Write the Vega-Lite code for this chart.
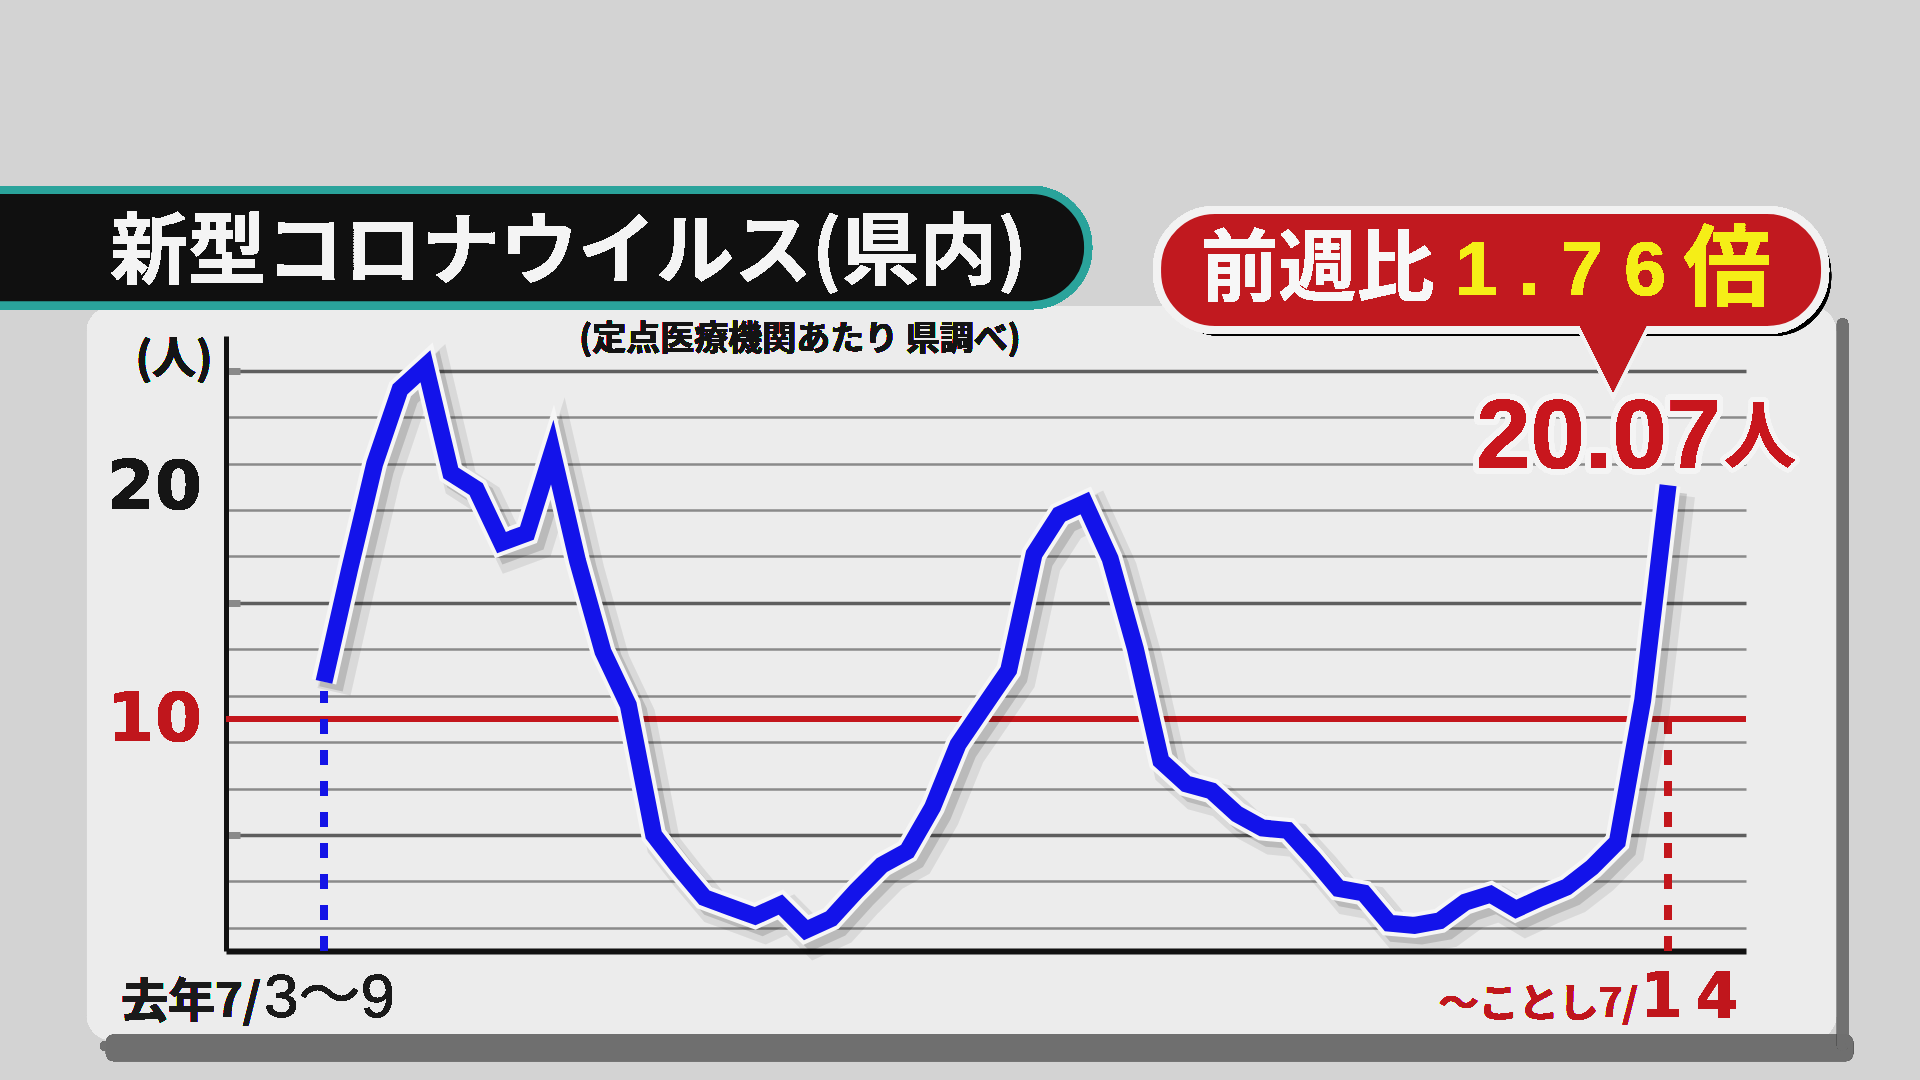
{
  "$schema": "https://vega.github.io/schema/vega-lite/v6.json",
  "width": 1520,
  "height": 615,
  "autosize": {"type": "none"},
  "padding": {"left": 226, "top": 336, "right": 174, "bottom": 129},
  "background": "#ececec",
  "config": {"view": {"stroke": null}, "font": "Noto Sans CJK JP"},
  "datasets": {
    "cases": [
      {"week": 0, "value": 11.6}, {"week": 1, "value": 16.4}, {"week": 2, "value": 21.0}, {"week": 3, "value": 24.2},
      {"week": 4, "value": 25.2}, {"week": 5, "value": 20.6}, {"week": 6, "value": 19.9}, {"week": 7, "value": 17.6},
      {"week": 8, "value": 18.0}, {"week": 9, "value": 21.5}, {"week": 10, "value": 16.8}, {"week": 11, "value": 12.9},
      {"week": 12, "value": 10.6}, {"week": 13, "value": 5.0}, {"week": 14, "value": 3.6}, {"week": 15, "value": 2.3},
      {"week": 16, "value": 1.9}, {"week": 17, "value": 1.5}, {"week": 18, "value": 2.0}, {"week": 19, "value": 0.9},
      {"week": 20, "value": 1.4}, {"week": 21, "value": 2.6}, {"week": 22, "value": 3.7}, {"week": 23, "value": 4.3},
      {"week": 24, "value": 6.2}, {"week": 25, "value": 8.9}, {"week": 26, "value": 10.5}, {"week": 27, "value": 12.1},
      {"week": 28, "value": 17.1}, {"week": 29, "value": 18.8}, {"week": 30, "value": 19.3}, {"week": 31, "value": 16.9},
      {"week": 32, "value": 13.0}, {"week": 33, "value": 8.2}, {"week": 34, "value": 7.2}, {"week": 35, "value": 6.9},
      {"week": 36, "value": 5.9}, {"week": 37, "value": 5.3}, {"week": 38, "value": 5.2}, {"week": 39, "value": 4.0},
      {"week": 40, "value": 2.7}, {"week": 41, "value": 2.5}, {"week": 42, "value": 1.2}, {"week": 43, "value": 1.1},
      {"week": 44, "value": 1.3}, {"week": 45, "value": 2.1}, {"week": 46, "value": 2.45}, {"week": 47, "value": 1.8},
      {"week": 48, "value": 2.3}, {"week": 49, "value": 2.75}, {"week": 50, "value": 3.6}, {"week": 51, "value": 4.7},
      {"week": 52, "value": 10.8}, {"week": 53, "value": 20.07}
    ]
  },
  "data": {"name": "cases"},
  "layer": [
    {
      "mark": {"type": "rect", "filled": false, "stroke": "#d3d3d3", "strokeWidth": 640, "cornerRadius": 345},
      "encoding": {
        "x": {"datum": -22.0, "type": "quantitative", "scale": {"domain": [-3.864, 56.073], "nice": false, "zero": false}},
        "x2": {"datum": 72.28},
        "y": {"datum": 41.58, "type": "quantitative", "scale": {"domain": [0, 26.5], "nice": false, "zero": false}},
        "y2": {"datum": -17.66}
      }
    },
    {
      "mark": {"type": "rect", "fill": "#6f6f6f", "opacity": 0.18, "cornerRadius": 8},
      "encoding": {
        "x": {"datum": -8.6, "type": "quantitative"},
        "x2": {"datum": 60.3},
        "y": {"datum": -3.6, "type": "quantitative"},
        "y2": {"datum": -4.75}
      }
    },
    {
      "mark": {"type": "rect", "fill": "#6f6f6f", "opacity": 0.3, "cornerRadius": 6},
      "encoding": {
        "x": {"datum": -8.83, "type": "quantitative"},
        "x2": {"datum": 60.02},
        "y": {"datum": -3.878, "type": "quantitative"},
        "y2": {"datum": -4.309}
      }
    },
    {
      "mark": {"type": "rect", "fill": "#6f6f6f", "opacity": 0.3, "cornerRadius": 6},
      "encoding": {
        "x": {"datum": 59.66, "type": "quantitative"},
        "x2": {"datum": 60.1},
        "y": {"datum": 27.27, "type": "quantitative"},
        "y2": {"datum": -4.309}
      }
    },
    {
      "mark": {"type": "rect", "fill": "#101010", "stroke": "#2aa39b", "strokeWidth": 8, "cornerRadius": 57},
      "encoding": {
        "x": {"datum": -15.14, "type": "quantitative"},
        "x2": {"datum": 30.13},
        "y": {"datum": 32.79, "type": "quantitative"},
        "y2": {"datum": 27.83}
      }
    },
    {
      "mark": {"type": "text", "text": "新型コロナウイルス(県内)", "align": "left", "baseline": "middle", "font": "Noto Sans CJK JP", "fontWeight": "bold", "fontSize": 78, "color": "#f4f4f4"},
      "encoding": {
        "x": {"datum": -8.44, "type": "quantitative"},
        "y": {"datum": 30.0, "type": "quantitative"}
      }
    },
    {
      "mark": {"type": "rect", "fill": "#ececec"},
      "encoding": {
        "x": {"datum": 9.15, "type": "quantitative"},
        "x2": {"datum": 28.43},
        "y": {"datum": 26.93, "type": "quantitative"},
        "y2": {"datum": 25.64}
      }
    },
    {
      "mark": {"type": "text", "text": "(定点医療機関あたり 県調べ)", "align": "center", "baseline": "middle", "font": "Noto Sans CJK JP", "fontWeight": "bold", "fontSize": 34, "color": "#141414"},
      "encoding": {
        "x": {"datum": 18.77, "type": "quantitative"},
        "y": {"datum": 26.33, "type": "quantitative"}
      }
    },
    {
      "mark": {"type": "text", "text": "(人)", "align": "center", "baseline": "middle", "font": "Noto Sans CJK JP", "fontWeight": "bold", "fontSize": 44, "color": "#141414"},
      "encoding": {
        "x": {"datum": -5.914, "type": "quantitative"},
        "y": {"datum": 25.42, "type": "quantitative"}
      }
    },
    {
      "mark": {"type": "text", "text": "20", "align": "right", "baseline": "middle", "font": "DejaVu Sans", "fontWeight": "bold", "fontSize": 68, "color": "#151515", "dx": -24, "dy": 2},
      "encoding": {
        "x": {"datum": -3.864, "type": "quantitative"},
        "y": {"datum": 20, "type": "quantitative"}
      }
    },
    {
      "mark": {"type": "text", "text": "10", "align": "right", "baseline": "middle", "font": "DejaVu Sans", "fontWeight": "bold", "fontSize": 68, "color": "#c0161c", "dx": -24, "dy": 2},
      "encoding": {
        "x": {"datum": -3.864, "type": "quantitative"},
        "y": {"datum": 10, "type": "quantitative"}
      }
    },
    {
      "mark": {"type": "rule", "color": "#c3161c", "strokeWidth": 5},
      "encoding": {"y": {"datum": 10, "type": "quantitative"}}
    },
    {
      "mark": {"type": "rule", "color": "#1414e6", "strokeWidth": 7, "strokeDash": [15, 16]},
      "encoding": {
        "x": {"datum": 0, "type": "quantitative"},
        "y": {"datum": 0, "type": "quantitative"},
        "y2": {"datum": 11.2}
      }
    },
    {
      "mark": {"type": "rule", "color": "#c3161c", "strokeWidth": 7, "strokeDash": [15, 16]},
      "encoding": {
        "x": {"datum": 53, "type": "quantitative"},
        "y": {"datum": 0, "type": "quantitative"},
        "y2": {"datum": 10}
      }
    },
    {
      "mark": {"type": "line", "color": "#000000", "opacity": 0.08, "strokeWidth": 34, "strokeJoin": "miter", "strokeCap": "butt", "xOffset": 10, "yOffset": 10},
      "encoding": {
        "x": {"field": "week", "type": "quantitative"},
        "y": {"field": "value", "type": "quantitative"}
      }
    },
    {
      "mark": {"type": "line", "color": "#000000", "opacity": 0.14, "strokeWidth": 24, "strokeJoin": "miter", "strokeCap": "butt", "xOffset": 7, "yOffset": 7},
      "encoding": {
        "x": {"field": "week", "type": "quantitative"},
        "y": {"field": "value", "type": "quantitative"}
      }
    },
    {
      "mark": {"type": "line", "color": "#f6f6f6", "strokeWidth": 25, "strokeJoin": "miter", "strokeCap": "butt"},
      "encoding": {
        "x": {"field": "week", "type": "quantitative"},
        "y": {"field": "value", "type": "quantitative"}
      }
    },
    {
      "mark": {"type": "line", "color": "#1313ea", "strokeWidth": 17, "strokeJoin": "miter", "strokeCap": "butt"},
      "encoding": {
        "x": {
          "field": "week", "type": "quantitative",
          "scale": {"domain": [-3.864, 56.073], "nice": false, "zero": false},
          "axis": {"title": null, "labels": false, "ticks": false, "grid": false, "domain": true, "domainColor": "#111111", "domainWidth": 6}
        },
        "y": {
          "field": "value", "type": "quantitative",
          "scale": {"domain": [0, 26.5], "nice": false, "zero": false},
          "axis": {
            "title": null,
            "values": [1, 2, 3, 4, 5, 6, 7, 8, 9, 10, 11, 12, 13, 14, 15, 16, 17, 18, 19, 20, 21, 22, 23, 24, 25, 26],
            "grid": true,
            "gridColor": {"condition": {"test": "datum.value % 5 === 0", "value": "#5e5e5e"}, "value": "#8a8a8a"},
            "gridWidth": {"condition": {"test": "datum.value % 5 === 0", "value": 3.5}, "value": 2.5},
            "domain": true, "domainColor": "#111111", "domainWidth": 5,
            "ticks": true, "tickSize": -14, "tickWidth": 7, "tickColor": "#8a8a8a",
            "tickOpacity": {"condition": {"test": "datum.value % 5 === 0", "value": 1}, "value": 0},
            "labels": false
          }
        }
      }
    },
    {
      "mark": {"type": "rect", "fill": "#000000", "opacity": 0.18, "cornerRadius": 58},
      "encoding": {
        "x": {"datum": 33.09, "type": "quantitative"},
        "x2": {"datum": 59.43},
        "y": {"datum": 31.67, "type": "quantitative"},
        "y2": {"datum": 26.5}
      }
    },
    {
      "mark": {"type": "point", "shape": "M -1 -1 L 1 -1 L 0 1 Z", "size": 4900, "filled": true, "fill": "#c1191f", "stroke": "#f2f2f2", "strokeWidth": 8, "opacity": 1},
      "encoding": {
        "x": {"datum": 50.83, "type": "quantitative"},
        "y": {"datum": 25.59, "type": "quantitative"}
      }
    },
    {
      "mark": {"type": "rect", "fill": "#c1191f", "stroke": "#f2f2f2", "strokeWidth": 8, "cornerRadius": 58},
      "encoding": {
        "x": {"datum": 32.85, "type": "quantitative"},
        "x2": {"datum": 59.19},
        "y": {"datum": 31.93, "type": "quantitative"},
        "y2": {"datum": 26.76}
      }
    },
    {
      "mark": {"type": "point", "shape": "M -1 -1 L 1 -1 L 0 1 Z", "size": 4900, "filled": true, "fill": "#c1191f", "strokeWidth": 0, "opacity": 1},
      "encoding": {
        "x": {"datum": 50.83, "type": "quantitative"},
        "y": {"datum": 25.59, "type": "quantitative"}
      }
    },
    {
      "mark": {"type": "text", "text": "前週比", "align": "left", "baseline": "middle", "font": "Noto Sans CJK JP", "fontWeight": "bold", "fontSize": 78, "color": "#f7f7f7"},
      "encoding": {
        "x": {"datum": 34.56, "type": "quantitative"},
        "y": {"datum": 29.25, "type": "quantitative"}
      }
    },
    {
      "mark": {"type": "text", "text": "1 . 7 6", "align": "left", "baseline": "middle", "font": "Liberation Sans", "fontWeight": "bold", "fontSize": 76, "color": "#f5ee17"},
      "encoding": {
        "x": {"datum": 44.6, "type": "quantitative"},
        "y": {"datum": 29.25, "type": "quantitative"}
      }
    },
    {
      "mark": {"type": "text", "text": "倍", "align": "left", "baseline": "middle", "font": "Noto Sans CJK JP", "fontWeight": "bold", "fontSize": 88, "color": "#f5ee17"},
      "encoding": {
        "x": {"datum": 53.6, "type": "quantitative"},
        "y": {"datum": 29.25, "type": "quantitative"}
      }
    },
    {
      "mark": {"type": "text", "text": "20.07", "align": "left", "baseline": "alphabetic", "font": "Liberation Sans", "fontWeight": "bold", "fontSize": 98, "color": "#f4f4f4", "stroke": "#f4f4f4", "strokeWidth": 12, "strokeJoin": "round"},
      "encoding": {
        "x": {"datum": 45.43, "type": "quantitative"},
        "y": {"datum": 20.81, "type": "quantitative"}
      }
    },
    {
      "mark": {"type": "text", "text": "20.07", "align": "left", "baseline": "alphabetic", "font": "Liberation Sans", "fontWeight": "bold", "fontSize": 98, "color": "#c8161d"},
      "encoding": {
        "x": {"datum": 45.43, "type": "quantitative"},
        "y": {"datum": 20.81, "type": "quantitative"}
      }
    },
    {
      "mark": {"type": "text", "text": "人", "align": "left", "baseline": "alphabetic", "font": "Noto Sans CJK JP", "fontWeight": "bold", "fontSize": 72, "color": "#f4f4f4", "stroke": "#f4f4f4", "strokeWidth": 10, "strokeJoin": "round"},
      "encoding": {
        "x": {"datum": 55.2, "type": "quantitative"},
        "y": {"datum": 21.1, "type": "quantitative"}
      }
    },
    {
      "mark": {"type": "text", "text": "人", "align": "left", "baseline": "alphabetic", "font": "Noto Sans CJK JP", "fontWeight": "bold", "fontSize": 72, "color": "#c8161d"},
      "encoding": {
        "x": {"datum": 55.2, "type": "quantitative"},
        "y": {"datum": 21.1, "type": "quantitative"}
      }
    },
    {
      "mark": {"type": "text", "text": "去年7/", "align": "right", "baseline": "alphabetic", "font": "Noto Sans CJK JP", "fontWeight": "bold", "fontSize": 47, "color": "#1a1a1a"},
      "encoding": {
        "x": {"datum": -2.484, "type": "quantitative"},
        "y": {"datum": -2.844, "type": "quantitative"}
      }
    },
    {
      "mark": {"type": "text", "text": "3〜9", "align": "left", "baseline": "alphabetic", "font": "Liberation Sans, Noto Sans CJK JP", "fontWeight": "normal", "fontSize": 62, "color": "#1a1a1a"},
      "encoding": {
        "x": {"datum": -2.366, "type": "quantitative"},
        "y": {"datum": -2.844, "type": "quantitative"}
      }
    },
    {
      "mark": {"type": "text", "text": "〜ことし7/", "align": "right", "baseline": "alphabetic", "font": "Noto Sans CJK JP", "fontWeight": "bold", "fontSize": 40, "color": "#c0161c"},
      "encoding": {
        "x": {"datum": 51.81, "type": "quantitative"},
        "y": {"datum": -2.844, "type": "quantitative"}
      }
    },
    {
      "mark": {"type": "text", "text": "1\u20094", "align": "left", "baseline": "alphabetic", "font": "DejaVu Sans", "fontWeight": "bold", "fontSize": 62, "color": "#c0161c"},
      "encoding": {
        "x": {"datum": 51.89, "type": "quantitative"},
        "y": {"datum": -2.844, "type": "quantitative"}
      }
    }
  ]
}
